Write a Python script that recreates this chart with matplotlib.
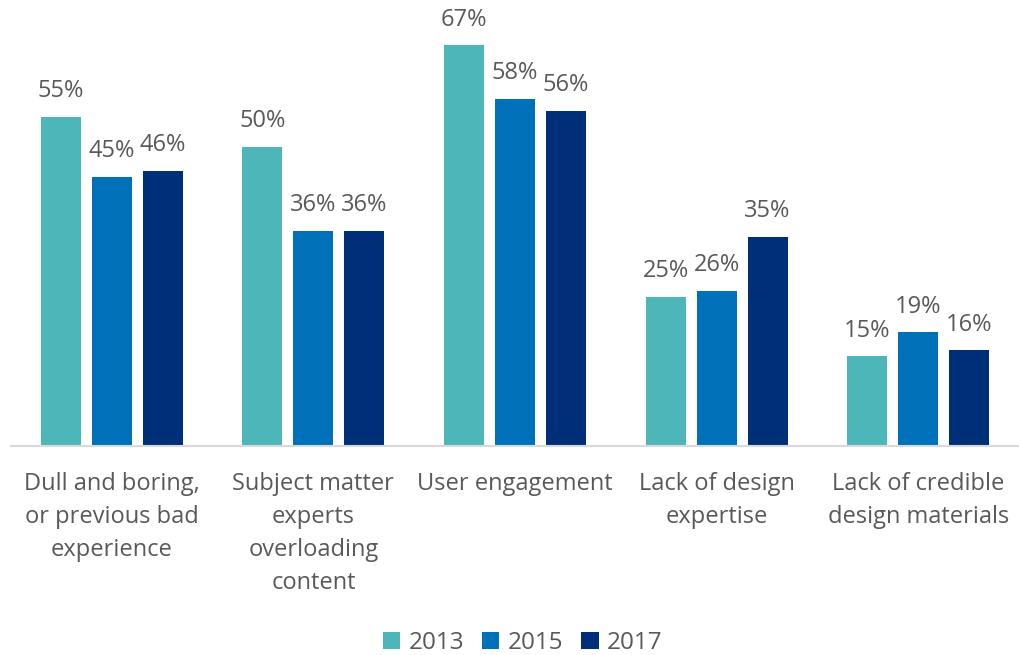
import matplotlib.pyplot as plt
import numpy as np

plt.rcParams['font.family'] = ['Open Sans', 'DejaVu Sans']

categories = [
    "Dull and boring,\nor previous bad\nexperience",
    "Subject matter\nexperts\noverloading\ncontent",
    "User engagement",
    "Lack of design\nexpertise",
    "Lack of credible\ndesign materials",
]
years = ["2013", "2015", "2017"]
vals_2013 = [55, 50, 67, 25, 15]
vals_2015 = [45, 36, 58, 26, 19]
vals_2017 = [46, 36, 56, 35, 16]
colors = ["#4db6b9", "#0071b9", "#002f7a"]

text_col = "#595959"

fig = plt.figure(figsize=(10.19, 6.55), dpi=100)
ax = fig.add_axes([11 / 1019, (655 - 446) / 655, 1008 / 1019, 418.6 / 655])

x = np.arange(len(categories))
width = 0.198
step = 0.253
series = [vals_2013, vals_2015, vals_2017]
for i, (vals, col, yr) in enumerate(zip(series, colors, years)):
    pos = x + (i - 1) * step
    bars = ax.bar(pos, vals, width, color=col, label=yr)
    for b, v in zip(bars, vals):
        ax.text(b.get_x() + b.get_width() / 2, v + 4.3, f"{v}%",
                ha="center", va="center", fontsize=17, color=text_col)

ax.set_xlim(-0.5, len(categories) - 0.5)
ax.set_ylim(0, 70)
for s in ["top", "right", "left"]:
    ax.spines[s].set_visible(False)
ax.spines["bottom"].set_color("#d9d9d9")
ax.spines["bottom"].set_linewidth(1.5)
ax.set_yticks([])
ax.set_xticks(x)
ax.set_xticklabels(categories, fontsize=17, color=text_col, linespacing=1.5)
ax.tick_params(axis="x", length=0, pad=19)

leg = fig.legend(loc="lower center", bbox_to_anchor=(0.513, -0.033), ncol=3,
                 frameon=False, fontsize=17.5, handlelength=0.7, handleheight=0.7,
                 handletextpad=0.35, columnspacing=0.75)
for t in leg.get_texts():
    t.set_color(text_col)

fig.savefig("out.png", dpi=100)
